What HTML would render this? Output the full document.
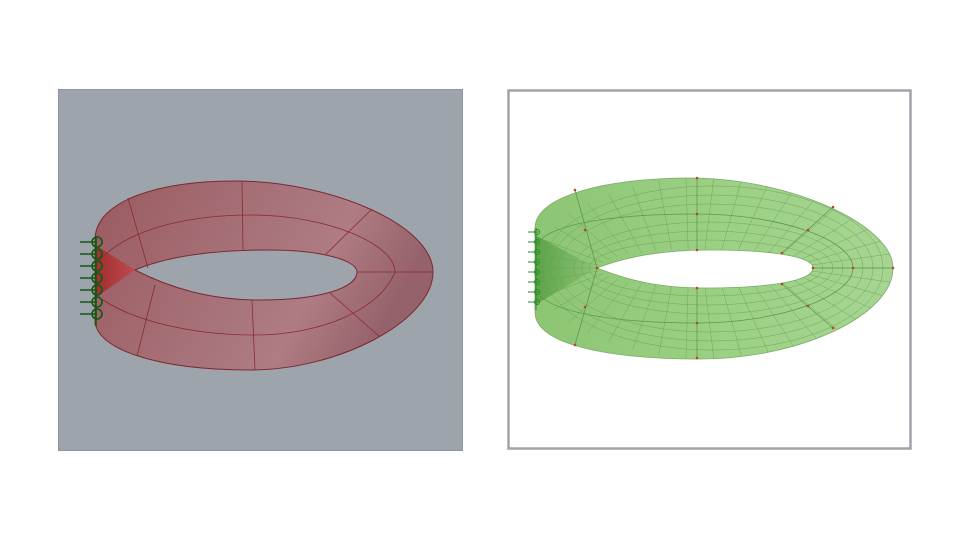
<!DOCTYPE html>
<html><head><meta charset="utf-8"><style>
html,body{margin:0;padding:0;background:#fff;}
svg{display:block;}
</style></head><body>
<svg id="fig" width="960" height="540" viewBox="0 0 960 540" xmlns="http://www.w3.org/2000/svg">
<defs>
<linearGradient id="rg" x1="0" y1="0" x2="1" y2="0.3">
<stop offset="0" stop-color="#9a5a60"/><stop offset="0.55" stop-color="#a8747b"/><stop offset="0.75" stop-color="#b07c83"/><stop offset="1" stop-color="#95616a"/>
</linearGradient>
<linearGradient id="tw" x1="0" y1="0" x2="1" y2="0">
<stop offset="0" stop-color="#a02c2c"/><stop offset="1" stop-color="#c0484e"/>
</linearGradient>
<linearGradient id="gg" x1="0" y1="0" x2="1" y2="0">
<stop offset="0" stop-color="#8cc574"/><stop offset="0.5" stop-color="#9bd083"/><stop offset="1" stop-color="#a6d592"/>
</linearGradient>
<linearGradient id="gtw" x1="0" y1="0" x2="1" y2="0">
<stop offset="0" stop-color="#4f9a3c"/><stop offset="1" stop-color="#8cc478"/>
</linearGradient>
<clipPath id="gclip"><path d="M535,228 C535,195 610,178 690,178 C790,178 893,225 893,268 C893,315 800,359 700,359 C610,359 535,345 535,312 Z M597,268 C630,281 660,288 705,288 C775,288 813,280 813,268 C813,258 780,250 710,250 C660,250 625,257 597,268 Z" clip-rule="evenodd"/></clipPath>
</defs>

<g>
<rect x="58.5" y="89.5" width="404" height="361" fill="#9ea4ab" stroke="#8e949b"/>
<g>
<path d="M95,240 C95,200 160,181 235,181 C330,181 433,225 433,272 C433,320 340,370 250,370 C160,370 95,350 95,320 Z M135,270 C170,288 210,300 260,300 C320,300 357,288 357,272 C357,260 320,250 270,250 C220,250 170,255 135,270 Z" fill-rule="evenodd" fill="url(#rg)" stroke="#7a2a30" stroke-width="1"/>
<path d="M95,245 L135,270 L95,298 Z" fill="url(#tw)" opacity="0.95"/>
<g fill="none" stroke="#8a2a30" stroke-width="0.8">
<path d="M98,262 C130,225 200,215 250,215 C330,215 395,245 395,272"/>
<path d="M97,296 C130,320 190,335 255,335 C320,335 380,310 395,272"/>
<path d="M128,198 L148,268"/><path d="M242,181 L243,250"/><path d="M372,209 L325,255"/>
<path d="M433,272 L357,272"/><path d="M380,337 L330,293"/><path d="M255,370 L252,300"/><path d="M137,356 L155,285"/>
<path d="M95,240 L95,325"/>
</g>
</g>
<g fill="none" stroke="#0e5a14" stroke-width="1.6">
<path d="M96,236 L96,326"/>
<path d="M80,242 H97 M80,254 H97 M80,266 H97 M80,278 H97 M80,290 H97 M80,302 H97 M80,314 H97"/>
<circle cx="97" cy="242" r="5"/><circle cx="97" cy="254" r="5"/><circle cx="97" cy="266" r="5"/><circle cx="97" cy="278" r="5"/><circle cx="97" cy="290" r="5"/><circle cx="97" cy="302" r="5"/><circle cx="97" cy="314" r="5"/>
</g>
</g>

<g>
<rect x="508.5" y="90.5" width="402" height="358" fill="#fff" stroke="#a0a4aa" stroke-width="2.5"/>
<g>
<path d="M535,228 C535,195 610,178 690,178 C790,178 893,225 893,268 C893,315 800,359 700,359 C610,359 535,345 535,312 Z M597,268 C630,281 660,288 705,288 C775,288 813,280 813,268 C813,258 780,250 710,250 C660,250 625,257 597,268 Z" fill-rule="evenodd" fill="url(#gg)" stroke="#7aab66" stroke-width="0.8"/>
<path d="M535,235 L597,268 L535,305 Z" fill="url(#gtw)" opacity="0.8"/>
<g id="mesh" clip-path="url(#gclip)" fill="none" stroke="#6a9e58" stroke-width="0.5" opacity="0.85"></g>
<g fill="none" stroke="#5c9a48" stroke-width="0.8">
<path d="M575,190 L597,268 M697,178 L697,250 M833,207 L782,253 M893,268 L813,268 M833,328 L782,284 M697,358 L697,288 M575,345 L597,268"/>
<path d="M540,240 C560,222 620,214 697,214 C780,214 853,240 853,268"/>
<path d="M540,296 C560,314 620,323 697,323 C780,323 853,296 853,268"/>
</g>
<g id="nodes" fill="#c0402a"></g>
</g>
<g fill="none" stroke="#2e8a2e" stroke-width="1">
<path d="M536,228 L536,310"/>
<path d="M528,232 H538 M528,242 H538 M528,252 H538 M528,262 H538 M528,272 H538 M528,282 H538 M528,292 H538 M528,302 H538"/>
<circle cx="537" cy="232" r="2.5"/><circle cx="537" cy="242" r="2.5"/><circle cx="537" cy="252" r="2.5"/><circle cx="537" cy="262" r="2.5"/><circle cx="537" cy="272" r="2.5"/><circle cx="537" cy="282" r="2.5"/><circle cx="537" cy="292" r="2.5"/><circle cx="537" cy="302" r="2.5"/>
</g>
</g>
</svg>
<script>
const NS="http://www.w3.org/2000/svg";
const mesh=document.getElementById('mesh');
const nodes=document.getElementById('nodes');
const O={cx:714,rx:179,ry:91,cy:268}, I={cx:705,rx:108,ry:19,cy:268};
function pt(f,t){const cx=O.cx+(I.cx-O.cx)*f, rx=O.rx+(I.rx-O.rx)*f, ry=O.ry+(I.ry-O.ry)*f;return [cx+rx*Math.cos(t),O.cy+ry*Math.sin(t)];}
[0.125,0.25,0.375,0.625,0.75,0.875].forEach(f=>{
  const e=document.createElementNS(NS,'ellipse');
  
  
  e.setAttribute('cx',O.cx+(I.cx-O.cx)*f);e.setAttribute('cy',O.cy);
  e.setAttribute('rx',O.rx+(I.rx-O.rx)*f);e.setAttribute('ry',O.ry+(I.ry-O.ry)*f);
  mesh.appendChild(e);
});
for(let i=0;i<40;i++){
  const t=i/40*Math.PI*2;
  const a=pt(0,t),b=pt(1,t);
  const l=document.createElementNS(NS,'line');
  
  
  l.setAttribute('x1',a[0]);l.setAttribute('y1',a[1]);l.setAttribute('x2',b[0]);l.setAttribute('y2',b[1]);
  mesh.appendChild(l);
}
[[575,190],[697,178],[833,207],[893,268],[833,328],[697,358],[575,345],[585,230],[697,214],[808,230],[853,268],[808,306],[697,323],[585,307],[597,268],[697,250],[782,253],[813,268],[782,284],[697,288]].forEach(p=>{
  const c=document.createElementNS(NS,'circle');
  
  
  c.setAttribute('cx',p[0]);c.setAttribute('cy',p[1]);c.setAttribute('r',1.3);
  nodes.appendChild(c);
});
</script>
</body></html>
